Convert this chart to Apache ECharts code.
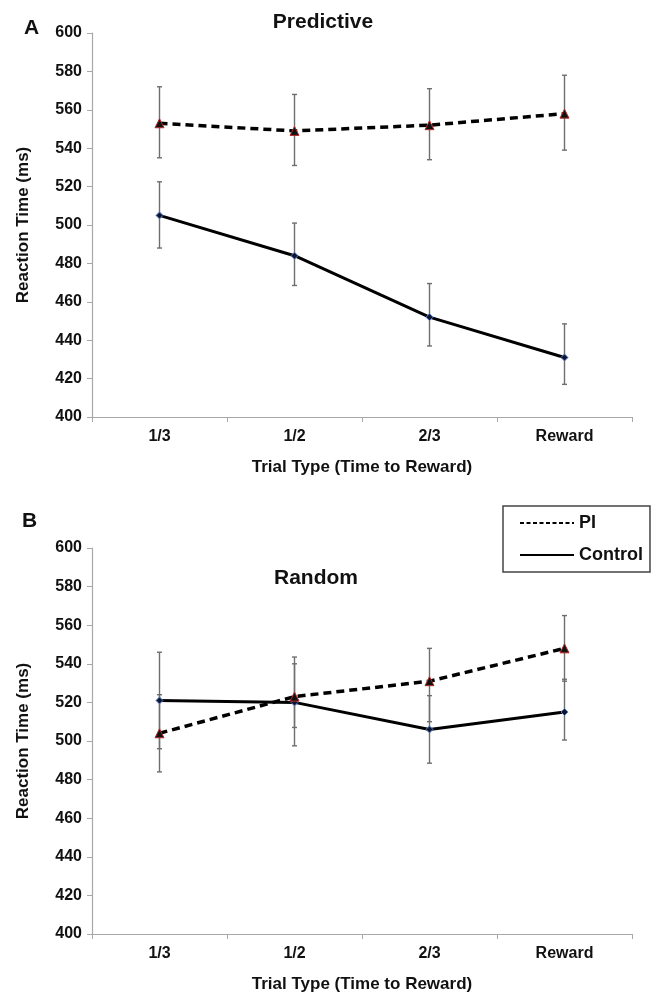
<!DOCTYPE html>
<html>
<head>
<meta charset="utf-8">
<script src="https://cdn.jsdelivr.net/npm/echarts@6/dist/echarts.min.js"></script>
<style>
html,body{margin:0;padding:0;background:#fff;}
#chart{width:652px;height:994px;}
</style>
</head>
<body>
<div id="chart"></div>
<script>
var categories = ['1/3', '1/2', '2/3', 'Reward'];
var yTicks = [400, 420, 440, 460, 480, 500, 520, 540, 560, 580, 600];

// Panel A: Predictive
var predPI = [553, 549, 552, 558];
var predPILow = [535, 531, 534, 539];
var predPIHigh = [572, 568, 571, 578];
var predControl = [505, 484, 452, 431];
var predControlLow = [488, 468.5, 437, 417];
var predControlHigh = [522.5, 501, 469.5, 448.5];

// Panel B: Random
var randPI = [504, 523, 531, 548];
var randPILow = [484, 507, 510, 531];
var randPIHigh = [524, 540, 548, 565];
var randControl = [521, 520, 506, 515];
var randControlLow = [496, 497.5, 488.5, 500.5];
var randControlHigh = [546, 543.5, 523.5, 532];

var FONT = "'Liberation Sans', Arial, sans-serif";

function errData(low, high) {
  return categories.map(function (c, i) { return [i, low[i], high[i]]; });
}

function errSeries(idx, low, high) {
  return {
    type: 'custom',
    xAxisIndex: idx, yAxisIndex: idx,
    z: 1,
    silent: true,
    data: errData(low, high),
    encode: { x: 0, y: [1, 2] },
    renderItem: function (params, api) {
      var x = api.value(0);
      var lo = api.coord([x, api.value(1)]);
      var hi = api.coord([x, api.value(2)]);
      var w = 2.5;
      var st = { stroke: '#6e6e6e', lineWidth: 1.4 };
      return {
        type: 'group',
        children: [
          { type: 'line', shape: { x1: lo[0], y1: lo[1], x2: hi[0], y2: hi[1] }, style: st },
          { type: 'line', shape: { x1: lo[0] - w, y1: lo[1], x2: lo[0] + w, y2: lo[1] }, style: st },
          { type: 'line', shape: { x1: hi[0] - w, y1: hi[1], x2: hi[0] + w, y2: hi[1] }, style: st }
        ]
      };
    }
  };
}

function piSeries(idx, data) {
  return {
    name: 'PI', type: 'line', xAxisIndex: idx, yAxisIndex: idx, z: 3,
    data: data,
    symbol: 'triangle', symbolSize: 9,
    itemStyle: { color: '#111', borderColor: '#b52a2a', borderWidth: 1 },
    lineStyle: { color: '#000', width: 3.5, type: [8, 5] }
  };
}
function ctlSeries(idx, data) {
  return {
    name: 'Control', type: 'line', xAxisIndex: idx, yAxisIndex: idx, z: 2,
    data: data,
    symbol: 'diamond', symbolSize: 7,
    itemStyle: { color: '#0d1533', borderColor: '#5b7fc7', borderWidth: 1 },
    lineStyle: { color: '#000', width: 3 }
  };
}

function xAxisDef(idx) {
  return {
    type: 'category', gridIndex: idx, data: categories, boundaryGap: true,
    axisLine: { lineStyle: { color: '#a8a8a8', width: 1.2 } },
    axisTick: { show: true, inside: false, length: 5, lineStyle: { color: '#a8a8a8' } },
    axisLabel: { color: '#111', fontWeight: 'bold', fontSize: 16, fontFamily: FONT, margin: 12 },
    name: 'Trial Type (Time to Reward)', nameLocation: 'middle', nameGap: 42,
    nameTextStyle: { color: '#111', fontWeight: 'bold', fontSize: 17, fontFamily: FONT }
  };
}
function yAxisDef(idx) {
  return {
    type: 'value', gridIndex: idx, min: yTicks[0], max: yTicks[yTicks.length - 1], interval: yTicks[1] - yTicks[0],
    axisLine: { show: true, lineStyle: { color: '#a8a8a8', width: 1.2 } },
    axisTick: { show: true, inside: false, length: 5, lineStyle: { color: '#a8a8a8' } },
    splitLine: { show: false },
    axisLabel: { color: '#111', fontWeight: 'bold', fontSize: 16, fontFamily: FONT, margin: 10 },
    name: 'Reaction Time (ms)', nameLocation: 'middle', nameGap: 60, nameRotate: 90,
    nameTextStyle: { color: '#111', fontWeight: 'bold', fontSize: 17, fontFamily: FONT }
  };
}

var dashIcon = 'path://M0,0h4v2h-4z M6.5,0h4v2h-4z M13,0h4v2h-4z M19.5,0h4v2h-4z M26,0h4v2h-4z M32.5,0h4v2h-4z M39,0h4v2h-4z M45.5,0h4v2h-4z M52,0h2v2h-2z';
var solidIcon = 'path://M0,0h54v2h-54z';

var chart = echarts.init(document.getElementById('chart'), null, { renderer: 'canvas' });
chart.setOption({
  backgroundColor: '#fff',
  animation: false,
  grid: [
    { left: 92, right: 20, top: 33, height: 384 },
    { left: 92, right: 20, top: 548, height: 390 }
  ],
  xAxis: [xAxisDef(0), xAxisDef(1)],
  yAxis: [yAxisDef(0), yAxisDef(1)],
  legend: {
    show: true,
    orient: 'vertical',
    left: 503, top: 506,
    padding: [7, 7, 7, 17],
    itemGap: 12,
    itemWidth: 54, itemHeight: 2.5,
    borderColor: '#444', borderWidth: 1.5,
    itemStyle: { color: '#000', borderWidth: 0, borderColor: 'transparent' },
    textStyle: { color: '#111', fontWeight: 'bold', fontSize: 18, lineHeight: 20, fontFamily: FONT },
    data: [
      { name: 'PI', icon: dashIcon, itemStyle: { color: '#000', borderWidth: 0, borderColor: 'transparent' } },
      { name: 'Control', icon: solidIcon, itemStyle: { color: '#000', borderWidth: 0, borderColor: 'transparent' } }
    ]
  },
  graphic: [
    { type: 'text', left: 24, top: 18, style: { text: 'A', fontSize: 21, fontWeight: 'bold', fontFamily: FONT, fill: '#111' } },
    { type: 'text', left: 22, top: 511, style: { text: 'B', fontSize: 21, fontWeight: 'bold', fontFamily: FONT, fill: '#111' } },
    { type: 'text', x: 323, y: 12, style: { text: 'Predictive', fontSize: 21, fontWeight: 'bold', fontFamily: FONT, fill: '#111', align: 'center' } },
    { type: 'text', x: 316, y: 568, style: { text: 'Random', fontSize: 21, fontWeight: 'bold', fontFamily: FONT, fill: '#111', align: 'center' } }
  ],
  series: [
    errSeries(0, predPILow, predPIHigh),
    errSeries(0, predControlLow, predControlHigh),
    piSeries(0, predPI),
    ctlSeries(0, predControl),
    errSeries(1, randPILow, randPIHigh),
    errSeries(1, randControlLow, randControlHigh),
    piSeries(1, randPI),
    ctlSeries(1, randControl)
  ]
});
</script>
</body>
</html>
